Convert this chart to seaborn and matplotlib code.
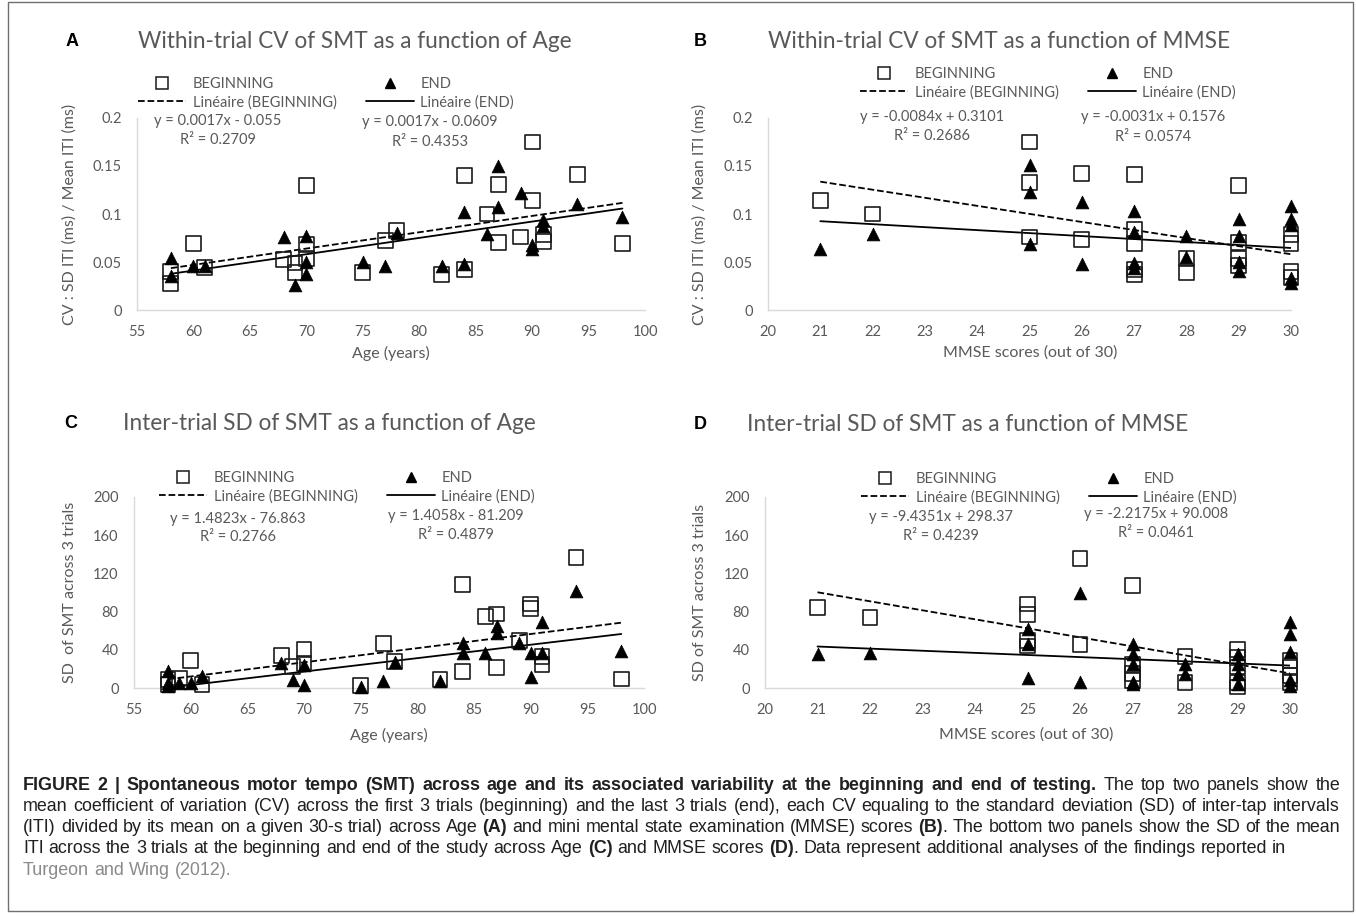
import numpy as np
import pandas as pd
import matplotlib
matplotlib.use('Agg')
import matplotlib.pyplot as plt
import seaborn as sns
from matplotlib.lines import Line2D
from matplotlib.patches import Rectangle
from matplotlib.ticker import FuncFormatter

W, H = 1356, 916

## panel A : CV vs age
a_beg_x = [58, 58, 60, 61, 68, 69, 69, 70, 70, 70, 75, 77, 78, 82, 84, 84, 86, 87, 87, 89, 90, 90, 91, 91, 94, 98]
a_beg_y = [0.028, 0.040, 0.069, 0.044, 0.053, 0.049, 0.039, 0.130, 0.068, 0.054, 0.039, 0.072, 0.083, 0.037,
           0.140, 0.042, 0.100, 0.131, 0.070, 0.076, 0.175, 0.114, 0.079, 0.071, 0.141, 0.069]
a_end_x = [58, 58, 60, 61, 68, 69, 70, 70, 70, 75, 77, 78, 82, 84, 84, 86, 87, 87, 89, 90, 90, 91, 91, 94, 98]
a_end_y = [0.054, 0.035, 0.046, 0.046, 0.076, 0.026, 0.077, 0.050, 0.038, 0.050, 0.046, 0.080, 0.046, 0.102,
           0.048, 0.079, 0.150, 0.107, 0.122, 0.068, 0.064, 0.094, 0.088, 0.110, 0.097]

## panel B : CV vs MMSE
b_beg_x = [21, 22, 25, 25, 25, 26, 26, 27, 27, 27, 27, 27, 28, 28, 29, 29, 29, 29, 30, 30, 30, 30]
b_beg_y = [0.114, 0.100, 0.175, 0.133, 0.076, 0.142, 0.073, 0.141, 0.084, 0.069, 0.042, 0.037, 0.054, 0.039,
           0.130, 0.070, 0.054, 0.046, 0.079, 0.069, 0.040, 0.034]
b_end_x = [21, 22, 25, 25, 25, 26, 26, 27, 27, 27, 27, 28, 28, 29, 29, 29, 29, 30, 30, 30, 30, 30]
b_end_y = [0.064, 0.079, 0.151, 0.123, 0.069, 0.112, 0.048, 0.103, 0.081, 0.049, 0.044, 0.077, 0.055, 0.095,
           0.077, 0.050, 0.041, 0.108, 0.095, 0.089, 0.033, 0.028]

## panel C : SD vs age
c_beg_x = [58, 58, 59, 60, 61, 68, 69, 70, 70, 75, 77, 78, 82, 84, 84, 86, 87, 87, 89, 90, 90, 91, 91, 94, 98]
c_beg_y = [8.7, 3.5, 10.5, 28.6, 3.5, 33.9, 22.7, 40, 26, 2.4, 47, 28, 8.7, 108, 17.5, 75, 77.5, 21, 49.6,
           88, 83, 33, 25, 137, 9.4]
c_end_x = [58, 58, 58, 59, 60, 61, 68, 69, 70, 70, 75, 77, 78, 82, 84, 84, 86, 87, 87, 89, 90, 90, 91, 91, 94, 98]
c_end_y = [17.5, 5, 2, 5, 5, 13, 26, 8.7, 24.4, 3.5, 1, 7, 27, 7, 47, 37, 37, 64.5, 57.6, 47, 36.6, 11.5,
           68.8, 36.6, 102, 38.4]

## panel D : SD vs MMSE
d_beg_x = [21, 22, 25, 25, 25, 25, 26, 26, 27, 27, 27, 27, 28, 28, 29, 29, 29, 29, 29, 30, 30, 30, 30]
d_beg_y = [84, 74, 88, 76.6, 50, 44, 136, 46, 107, 25, 15, 8, 33, 6, 40, 32, 22, 6, 1, 29, 22, 13, 6]
d_end_x = [21, 22, 25, 25, 25, 26, 26, 27, 27, 27, 27, 27, 28, 28, 29, 29, 29, 29, 30, 30, 30, 30, 30]
d_end_y = [36, 37, 62, 46, 10.5, 100, 6, 46, 36, 25, 6, 4, 25, 15, 36, 25, 15, 4, 69, 57, 38, 8, 2.5]

## excel trendlines (slope, intercept, r2) for BEGINNING / END
a_fit = [(0.0017, -0.055, 0.2709), (0.0017, -0.0609, 0.4353)]
b_fit = [(-0.0084, 0.3101, 0.2686), (-0.0031, 0.1576, 0.0574)]
c_fit = [(1.4823, -76.863, 0.2766), (1.4058, -81.209, 0.4879)]
d_fit = [(-9.4351, 298.37, 0.4239), (-2.2175, 90.008, 0.0461)]

a_eq = ['y = 0.0017x - 0.055', 'y = 0.0017x - 0.0609']
b_eq = ['y = -0.0084x + 0.3101', 'y = -0.0031x + 0.1576']
c_eq = ['y = 1.4823x - 76.863', 'y = 1.4058x - 81.209']
d_eq = ['y = -9.4351x + 298.37', 'y = -2.2175x + 90.008']

titles = ['Within-trial CV of SMT as a function of Age',
          'Within-trial CV of SMT as a function of MMSE',
          'Inter-trial SD of SMT as a function of Age',
          'Inter-trial SD of SMT as a function of MMSE']
letters = ['A', 'B', 'C', 'D']
ylabels = ['CV : SD ITI (ms) / Mean ITI (ms)', 'CV : SD ITI (ms) / Mean ITI (ms)',
           'SD  of SMT across 3 trials', 'SD of SMT across 3 trials']
xlabels = ['Age (years)', 'MMSE scores (out of 30)', 'Age (years)', 'MMSE scores (out of 30)']
age_ticks = list(range(55, 101, 5))
mmse_ticks = list(range(20, 31))
cv_ticks = [0, 0.05, 0.1, 0.15, 0.2]
sd_ticks = [0, 40, 80, 120, 160, 200]

sns.set_theme(style='white')
plt.rcParams['font.family'] = ['Lato', 'DejaVu Sans']

grey = '#595959'
fig = plt.figure(figsize=(W / 100, H / 100), dpi=100)


def fx(x):
    return x / W


def fy(y):
    return 1 - y / H


# pixel layout of each panel
layout = [
    dict(box=(137, 645, 118, 310), title=(138, 42), letter=(72, 42), leg=(326, 93),
         eq=[(218, 121, 140), (430, 122, 142)], ylab=(70, 214), xlab=(391, 353)),
    dict(box=(768, 1291, 118, 310), title=(768, 42), letter=(700, 42), leg=(1048, 83),
         eq=[(932, 117, 136), (1153, 117, 137)], ylab=(700, 214), xlab=(1030, 353)),
    dict(box=(134, 644, 497, 688), title=(123, 423), letter=(71, 423), leg=(347, 487),
         eq=[(238, 519, 537), (456, 516, 535)], ylab=(70, 592), xlab=(389, 735)),
    dict(box=(765, 1290, 497, 688), title=(747, 425), letter=(700, 425), leg=(1049, 488),
         eq=[(941, 517, 536), (1156, 514, 533)], ylab=(700, 592), xlab=(1026, 735)),
]

panels = [
    (a_beg_x, a_beg_y, a_end_x, a_end_y, a_fit, a_eq, age_ticks, cv_ticks),
    (b_beg_x, b_beg_y, b_end_x, b_end_y, b_fit, b_eq, mmse_ticks, cv_ticks),
    (c_beg_x, c_beg_y, c_end_x, c_end_y, c_fit, c_eq, age_ticks, sd_ticks),
    (d_beg_x, d_beg_y, d_end_x, d_end_y, d_fit, d_eq, mmse_ticks, sd_ticks),
]

for i, (bx, by, ex, ey, fit, eq, xt, yt) in enumerate(panels):
    lo = layout[i]
    l, r, t, b = lo['box']
    ax = fig.add_axes([fx(l), fy(b), (r - l) / W, (b - t) / H])

    beg = pd.DataFrame({'x': bx, 'y': by})
    end = pd.DataFrame({'x': ex, 'y': ey})

    # trendlines over the data range
    xr = np.array([min(bx + ex), max(bx + ex)], dtype=float)
    for (slope, inter, r2), ls in zip(fit, ['--', '-']):
        sns.lineplot(x=xr, y=slope * xr + inter, ax=ax, color='black', lw=1.3,
                     linestyle=ls, zorder=2)

    sns.scatterplot(data=beg, x='x', y='y', ax=ax, marker='s', s=115, facecolors='none',
                    edgecolor='#1a1a1a', linewidth=1.2, clip_on=False, zorder=3)
    sns.scatterplot(data=end, x='x', y='y', ax=ax, marker='^', s=85, color='black',
                    edgecolor='black', linewidth=0.5, clip_on=False, zorder=4)

    ax.set_xlim(xt[0], xt[-1])
    ax.set_ylim(yt[0], yt[-1])
    ax.set_xticks(xt)
    ax.set_yticks(yt)
    ax.yaxis.set_major_formatter(FuncFormatter(lambda v, p: f'{v:g}'))
    ax.tick_params(length=0, labelsize=10.5, labelcolor=grey, pad=11)
    sns.despine(ax=ax)
    for s in ['left', 'bottom']:
        ax.spines[s].set_color('#d9d9d9')
        ax.spines[s].set_linewidth(1)

    ax.set_xlabel(xlabels[i], fontsize=11.5, color=grey, va='center')
    ax.set_ylabel(ylabels[i], fontsize=11.5, color=grey, va='center')
    ax.xaxis.set_label_coords(fx(lo['xlab'][0]), fy(lo['xlab'][1]), transform=fig.transFigure)
    ax.yaxis.set_label_coords(fx(lo['ylab'][0]), fy(lo['ylab'][1]), transform=fig.transFigure)

    fig.text(fx(lo['title'][0]), fy(lo['title'][1]), titles[i], fontsize=16.3, color=grey,
             ha='left', va='center')
    fig.text(fx(lo['letter'][0]), fy(lo['letter'][1]), letters[i], fontsize=13, color='black',
             fontweight='bold', ha='center', va='center', family=['Liberation Sans', 'DejaVu Sans'])

    for (cx, y1, y2), txt, (slope, inter, r2) in zip(lo['eq'], eq, fit):
        fig.text(fx(cx), fy(y1), txt, fontsize=10.5, color=grey, ha='center', va='center')
        fig.text(fx(cx), fy(y2), f'R\u00b2 = {r2:.4f}', fontsize=10.5, color=grey,
                 ha='center', va='center')

    handles = [Line2D([], [], ls='none', marker='s', ms=8, mfc='none', mec='#1a1a1a', mew=1.1),
               Line2D([], [], ls='--', color='black', lw=1.3),
               Line2D([], [], ls='none', marker='^', ms=7.5, color='black'),
               Line2D([], [], ls='-', color='black', lw=1.3)]
    labels = ['BEGINNING', 'Lin\u00e9aire (BEGINNING)', 'END', 'Lin\u00e9aire (END)']
    ax.legend(handles, labels, ncol=2, loc='center', bbox_to_anchor=(fx(lo['leg'][0]), fy(lo['leg'][1])),
              bbox_transform=fig.transFigure, frameon=False, fontsize=10.5, handlelength=3.3,
              handletextpad=0.45, columnspacing=2.0, labelspacing=0.3, labelcolor=grey, borderpad=0)

### caption (justified like the journal page)
cap_font = ['Liberation Sans', 'DejaVu Sans']
ink = '#231f20'
link = '#8a8a8a'
# runs: text, weight, colour, glued to previous word
cap_lines = [
    [('FIGURE 2 | Spontaneous motor tempo (SMT) across age and its associated variability at the beginning and end of testing.', 'bold', ink, False),
     ('The top two panels show the', 'normal', ink, False)],
    [('mean coefficient of variation (CV) across the first 3 trials (beginning) and the last 3 trials (end), each CV equaling to the standard deviation (SD) of inter-tap intervals', 'normal', ink, False)],
    [('(ITI) divided by its mean on a given 30-s trial) across Age', 'normal', ink, False), ('(A)', 'bold', ink, False),
     ('and mini mental state examination (MMSE) scores', 'normal', ink, False), ('(B)', 'bold', ink, False),
     ('.', 'normal', ink, True), ('The bottom two panels show the SD of the mean', 'normal', ink, False)],
    [('ITI across the 3 trials at the beginning and end of the study across Age', 'normal', ink, False), ('(C)', 'bold', ink, False),
     ('and MMSE scores', 'normal', ink, False), ('(D)', 'bold', ink, False),
     ('.', 'normal', ink, True), ('Data represent additional analyses of the findings reported in', 'normal', ink, False)],
    [('Turgeon and Wing (2012).', 'normal', link, False)],
]
justify = [True, True, True, False, False]

rend = fig.canvas.get_renderer()


def width(txt, size, weight):
    t = fig.text(0, 0, txt, fontsize=size, fontweight=weight, family=cap_font)
    w = t.get_window_extent(rend).width
    t.remove()
    return w


# size the font so the unjustified 4th line ends where it does on the page
natural = width('ITI across the 3 trials at the beginning and end of the study across Age (C) and MMSE scores (D). '
                'Data represent additional analyses of the findings reported in', 10, 'normal')
cap_size = 10 * (1290 - 23) / natural
space = width('a a', cap_size, 'normal') - width('aa', cap_size, 'normal')

for k, runs in enumerate(cap_lines):
    words = []
    for txt, wt, col, glue in runs:
        for j, w in enumerate(txt.split(' ')):
            words.append((w, wt, col, glue and j == 0))
    ws = [width(w, cap_size, wt) for w, wt, col, g in words]
    n_gaps = sum(1 for w in words[1:] if not w[3])
    gap = (1340 - 23 - sum(ws)) / n_gaps if justify[k] else space
    x = 23
    y = 785 + 21.3 * k
    for j, ((w, wt, col, g), wd) in enumerate(zip(words, ws)):
        if j > 0 and not g:
            x += gap
        fig.text(fx(x), fy(y), w, fontsize=cap_size, fontweight=wt, color=col,
                 family=cap_font, ha='left', va='center')
        x += wd

fig.patches.append(Rectangle((fx(8), fy(911)), (1353 - 8) / W, (911 - 2) / H, transform=fig.transFigure,
                             fill=False, edgecolor='#707070', lw=1))

fig.savefig('out.png', dpi=100)
